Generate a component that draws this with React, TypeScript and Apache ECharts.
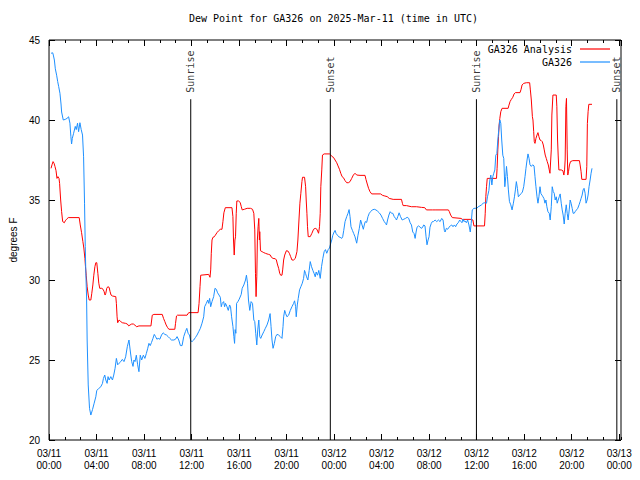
import React, { useEffect, useRef } from 'react';
import * as echarts from 'echarts';

const TITLE = 'Dew Point for GA326 on 2025-Mar-11 (time in UTC)';
const NAME_ANALYSIS = 'GA326 Analysis';
const NAME_OBS = 'GA326';
const Y_NAME = 'degrees F';
const Y_MIN = 20;
const Y_MAX = 45;
const Y_STEP = 5;
const X_MIN = 0; // hours since 03/11 00:00 UTC
const X_MAX = 48.15;
const X_STEP = 4;
const X_MINOR_STEP = 4 / 3;
const SUN_TIMES = [11.93, 23.68, 35.98, 47.8];
const SUN_LABELS = ['Sunrise', 'Sunset', 'Sunrise', 'Sunset'];
const SUN_LINE_TOP = 41.3;

// [hours since 2025-03-11 00:00 UTC, dew point F]
const analysis: [number, number][] = [
  [0.17,36.98],[0.25,37.2],[0.34,37.4],[0.42,37.3],[0.50,37.1],[0.59,36.83],[0.67,36.35],[0.75,36.46],[0.84,36.35],[0.89,36.04],[0.98,35.0],[1.06,34.27],[1.15,33.65],[1.29,33.58],[1.37,33.7],[1.48,33.8],[1.62,33.9],[2.54,33.9],[2.63,33.44],[2.74,32.96],[2.85,32.4],[2.93,32.0],[3.02,31.35],[3.07,30.83],[3.13,30.3],[3.21,29.58],[3.30,29.06],[3.38,28.75],[3.52,28.75],[3.60,29.17],[3.69,29.69],[3.77,30.3],[3.86,30.83],[3.94,31.08],[4.02,31.08],[4.11,30.42],[4.19,29.8],[4.27,29.48],[4.44,29.48],[4.55,29.42],[4.64,29.27],[4.72,29.06],[4.78,29.17],[4.86,29.48],[4.95,29.58],[5.06,29.54],[5.14,29.27],[5.22,29.06],[5.34,29.0],[5.62,28.96],[5.67,28.54],[5.73,27.7],[5.78,27.33],[5.90,27.5],[6.04,27.4],[6.17,27.33],[6.45,27.29],[6.59,27.25],[6.71,27.13],[6.82,27.19],[6.96,27.25],[7.10,27.25],[7.24,27.17],[7.38,27.08],[7.57,27.13],[8.58,27.13],[8.69,27.8],[8.83,27.85],[9.53,27.85],[9.64,27.6],[9.75,27.4],[9.86,27.19],[9.97,27.04],[10.09,26.92],[10.59,26.92],[10.65,27.29],[10.73,27.75],[10.81,27.8],[11.62,27.8],[11.76,27.96],[12.55,27.96],[12.63,28.54],[12.71,29.58],[12.77,30.3],[13.44,30.35],[13.55,30.17],[13.61,30.63],[13.66,31.67],[13.72,32.5],[13.80,32.67],[13.91,32.7],[14.00,32.8],[14.14,32.96],[14.28,33.08],[14.42,33.17],[14.56,33.17],[14.64,33.65],[14.72,34.2],[14.84,34.52],[15.40,34.52],[15.48,33.96],[15.53,32.5],[15.59,31.56],[15.65,32.5],[15.70,32.7],[15.76,34.17],[15.81,34.94],[15.95,34.94],[16.09,34.85],[16.18,34.6],
  [16.26,34.38],[16.45,34.42],[16.68,34.48],[16.96,34.48],[17.13,34.42],[17.24,34.17],[17.32,33.13],[17.38,30.42],[17.43,28.96],[17.49,30.2],[17.54,32.5],[17.60,33.33],[17.66,33.85],[17.71,32.5],[17.74,33.02],[17.80,31.83],[17.94,31.77],[18.08,31.71],[18.21,31.67],[18.35,31.63],[18.49,31.6],[18.63,31.56],[18.72,31.42],[18.86,31.35],[19.05,31.33],[19.14,31.25],[19.22,31.0],[19.33,30.73],[19.42,30.42],[19.50,30.3],[19.61,30.3],[19.67,30.63],[19.75,31.25],[19.84,31.56],[19.98,31.83],[20.11,31.81],[20.23,31.67],[20.34,31.46],[20.45,31.25],[20.59,31.25],[20.73,31.35],[20.87,31.77],[20.95,32.5],[21.04,33.75],[21.12,34.8],[21.20,35.42],[21.29,36.15],[21.34,36.42],[21.51,36.42],[21.60,35.83],[21.65,35.0],[21.71,34.17],[21.76,33.33],[21.82,32.71],[21.99,32.71],[22.13,32.92],[22.27,33.17],[22.41,33.23],[22.55,33.17],[22.69,32.92],[22.77,33.33],[22.83,34.17],[22.88,35.83],[22.96,36.88],[23.02,37.81],[23.16,37.88],[23.61,37.88],[23.72,37.81],[23.83,37.71],[23.94,37.67],[24.08,37.5],[24.22,37.33],[24.33,37.13],[24.45,36.92],[24.56,36.67],[24.67,36.46],[24.78,36.4],[24.92,36.21],[25.06,36.08],[25.20,36.08],[25.34,36.15],[25.48,36.35],[25.62,36.56],[25.76,36.67],[25.90,36.56],[26.18,36.54],[26.60,36.54],[26.68,36.29],[26.79,36.0],[26.90,35.73],[27.02,35.52],[27.16,35.38],[27.91,35.38],[28.08,35.29],[28.27,35.25],[28.47,35.21],[28.64,35.1],[28.97,35.04],[29.67,35.04],[29.75,34.79],[29.81,34.65],[30.09,34.65],[30.51,34.58],[30.93,34.58],[31.35,34.54],[31.63,34.52],[31.77,34.38],[32.27,34.38],
  [32.50,34.38],[33.62,34.38],[33.70,34.27],[33.81,34.06],[33.95,33.9],[34.68,33.85],[34.79,33.79],[35.57,33.79],[35.68,33.75],[35.77,33.38],[36.66,33.38],[36.72,34.17],[36.77,35.21],[36.83,35.83],[36.89,36.35],[37.67,36.35],[37.72,36.98],[37.78,38.13],[37.84,38.96],[37.89,39.69],[37.95,40.1],[38.03,40.52],[38.14,40.73],[38.65,40.73],[38.70,40.88],[38.81,41.15],[38.92,41.29],[39.04,41.42],[39.15,41.63],[39.26,41.71],[39.65,41.71],[39.74,41.92],[39.82,42.19],[39.96,42.29],[40.18,42.33],[40.46,42.33],[40.52,41.88],[40.60,41.25],[40.69,40.21],[40.74,40.0],[40.80,39.27],[40.85,38.65],[40.91,38.54],[40.99,38.85],[41.08,39.06],[41.16,39.21],[41.24,38.96],[41.33,38.75],[41.44,38.71],[41.52,38.65],[41.61,38.44],[41.69,38.13],[41.77,37.81],[41.86,37.6],[41.94,37.4],[42.03,37.19],[42.11,36.88],[42.17,36.67],[42.22,36.67],[42.28,38.13],[42.33,40.31],[42.42,41.56],[42.70,41.56],[42.75,40.83],[42.81,38.75],[42.86,37.81],[42.92,36.88],[43.12,36.88],[43.26,36.83],[43.34,36.56],[43.40,36.88],[43.45,37.5],[43.51,40.83],[43.56,41.35],[43.62,38.13],[43.67,36.56],[43.73,36.77],[43.81,37.19],[43.90,37.4],[44.09,37.46],[44.65,37.46],[44.71,37.19],[44.79,36.77],[44.85,36.29],[45.21,36.29],[45.27,37.08],[45.32,39.79],[45.38,40.52],[45.44,40.98],[45.71,40.98]
];

const observed: [number, number][] = [
  [0.17,44.17],[0.31,44.2],[0.36,44.06],[0.45,43.75],[0.53,43.2],[0.64,42.8],[0.73,42.4],[0.81,42.1],[0.92,41.67],[1.01,41.0],[1.06,40.5],[1.20,40.0],[1.37,40.04],[1.51,40.1],[1.65,40.2],[1.76,39.8],[1.84,38.96],[1.90,38.5],[1.96,38.85],[2.07,39.17],[2.21,39.6],[2.29,39.4],[2.40,39.8],[2.49,39.27],[2.60,39.83],[2.71,39.4],[2.82,39.06],[2.91,37.7],[2.99,34.8],[3.05,32.1],[3.10,30.4],[3.16,29.0],[3.21,26.25],[3.30,23.44],[3.41,21.98],[3.52,21.56],[3.66,21.9],[3.80,22.3],[3.94,22.7],[4.02,23.1],[4.16,23.2],[4.36,23.33],[4.50,23.54],[4.58,23.85],[4.69,24.06],[4.78,23.75],[4.89,23.54],[4.97,23.96],[5.06,23.75],[5.20,23.96],[5.34,23.75],[5.45,24.06],[5.56,24.48],[5.67,25.1],[5.78,24.7],[5.90,24.8],[6.04,24.9],[6.17,25.04],[6.31,24.9],[6.45,25.2],[6.59,25.83],[6.73,26.25],[6.85,25.5],[6.96,24.9],[7.07,24.6],[7.15,25.0],[7.24,24.9],[7.35,25.3],[7.46,24.7],[7.57,24.27],[7.68,25.3],[7.80,25.0],[7.94,25.3],[8.07,25.1],[8.19,25.4],[8.30,25.7],[8.41,26.04],[8.52,25.9],[8.63,26.1],[8.75,26.35],[8.86,26.6],[8.97,26.46],[9.08,26.3],[9.19,26.35],[9.33,26.3],[9.47,26.56],[9.61,26.7],[9.75,26.6],[9.89,26.56],[10.03,26.46],[10.17,26.35],[10.31,26.25],[10.51,26.25],[10.65,26.3],[10.78,26.46],[10.92,26.25],[11.06,25.9],[11.20,25.9],[11.34,26.46],[11.48,26.77],[11.60,26.98],[11.71,26.67],[11.82,26.56],[11.93,26.2],[12.04,26.15],[12.18,26.25],[12.32,26.4],[12.46,26.56],[12.60,26.77],[12.74,26.98],[12.88,27.3],[13.02,27.7],[13.10,28.33],[13.24,28.54],[13.36,28.75],[13.44,28.54],[13.52,28.85],[13.61,28.33],[13.72,28.65],[13.86,28.96],[13.97,29.48],[14.08,29.42],[14.19,29.2],[14.31,29.06],[14.42,28.92],[14.50,28.33],[14.58,28.54],[14.70,28.65],[14.78,28.33],[14.86,28.54],[14.98,28.33],[15.09,28.1],[15.20,28.44],[15.28,28.33],[15.37,27.7],[15.48,27.1],[15.56,26.46],[15.62,26.04],[15.67,26.9],[15.73,26.67],[15.79,28.54],[15.90,28.65],[16.01,28.8],[16.18,29.1],
  [16.26,29.48],[16.40,29.69],[16.54,30.0],[16.62,30.3],[16.71,29.8],[16.79,28.75],[16.90,28.1],[17.01,28.65],[17.13,28.54],[17.24,27.5],[17.32,27.4],[17.40,26.67],[17.49,25.94],[17.57,26.88],[17.66,27.5],[17.74,26.46],[17.82,26.35],[17.94,26.56],[18.08,26.77],[18.21,26.98],[18.35,27.19],[18.49,27.5],[18.61,27.9],[18.69,27.1],[18.77,26.25],[18.86,25.73],[18.97,26.04],[19.08,26.46],[19.19,26.6],[19.33,26.56],[19.47,26.46],[19.61,26.35],[19.70,27.1],[19.75,27.7],[19.84,28.1],[19.92,27.9],[20.03,27.7],[20.17,27.8],[20.31,28.1],[20.45,28.33],[20.59,28.54],[20.67,28.7],[20.76,28.33],[20.81,27.7],[20.90,28.44],[20.98,28.85],[21.09,29.38],[21.20,29.58],[21.32,29.8],[21.43,30.1],[21.51,30.6],[21.60,30.4],[21.68,30.2],[21.79,30.0],[21.90,30.6],[21.99,31.15],[22.10,30.83],[22.21,30.6],[22.32,30.4],[22.41,30.2],[22.49,30.5],[22.60,30.3],[22.71,30.6],[22.83,30.1],[22.94,30.83],[23.05,31.35],[23.16,31.77],[23.27,31.9],[23.38,31.67],[23.50,31.9],[23.61,32.0],[23.72,32.3],[23.80,32.5],[23.89,32.8],[24.00,33.0],[24.08,33.1],[24.17,32.9],[24.28,32.8],[24.39,32.7],[24.50,32.67],[24.64,32.6],[24.72,32.7],[24.81,33.1],[24.92,33.65],[25.06,33.96],[25.17,34.17],[25.26,34.4],[25.34,33.96],[25.42,33.33],[25.54,33.1],[25.65,32.9],[25.76,32.7],[25.90,32.3],[26.01,32.8],[26.12,33.23],[26.23,33.75],[26.35,33.44],[26.46,33.17],[26.54,33.44],[26.62,33.65],[26.74,33.6],[26.85,33.96],[26.96,34.17],[27.07,34.27],[27.21,34.38],[27.38,34.42],[27.52,34.38],[27.66,34.3],[27.80,34.2],[27.94,34.06],[28.08,33.85],[28.22,33.65],[28.33,33.54],[28.41,33.44],[28.50,33.75],[28.61,34.06],[28.72,34.27],[28.83,34.17],[28.94,34.17],[29.06,33.96],[29.17,33.85],[29.25,33.75],[29.36,33.96],[29.47,34.2],[29.59,33.96],[29.73,33.75],[29.87,33.8],[30.01,33.85],[30.15,33.92],[30.28,33.85],[30.40,33.58],[30.51,33.44],[30.62,33.0],[30.73,32.9],[30.82,32.6],[30.90,33.0],[30.98,33.3],[31.10,33.38],[31.21,33.33],[31.32,33.23],[31.43,33.27],[31.54,33.44],[31.65,33.38],[31.74,32.7],[31.82,32.2],[31.91,32.5],[31.99,32.7],[32.07,33.3],[32.18,33.54],[32.27,33.65],
  [32.36,33.65],[32.50,33.75],[32.64,33.65],[32.78,33.75],[32.92,33.65],[33.06,33.85],[33.17,33.75],[33.28,33.1],[33.34,33.0],[33.45,33.23],[33.56,33.17],[33.67,33.3],[33.78,33.38],[33.90,33.44],[34.01,33.33],[34.12,33.44],[34.23,33.33],[34.34,33.5],[34.45,33.58],[34.57,33.75],[34.68,33.65],[34.76,33.58],[34.85,33.8],[34.93,33.65],[35.01,33.7],[35.13,33.58],[35.24,33.75],[35.35,33.44],[35.46,33.0],[35.54,33.54],[35.63,34.38],[35.77,34.48],[35.91,34.48],[36.02,34.48],[36.13,34.58],[36.27,34.63],[36.41,34.7],[36.55,34.8],[36.69,34.83],[36.83,34.8],[36.91,35.2],[37.03,35.6],[37.11,36.25],[37.19,36.56],[37.28,35.94],[37.36,36.46],[37.44,36.67],[37.53,36.88],[37.61,37.8],[37.70,37.9],[37.78,38.75],[37.86,39.38],[37.95,40.0],[38.03,39.8],[38.11,38.75],[38.20,37.8],[38.28,37.6],[38.37,35.83],[38.45,36.46],[38.51,37.1],[38.59,36.46],[38.67,35.63],[38.76,34.9],[38.87,34.7],[38.98,34.38],[39.09,34.8],[39.18,35.2],[39.26,35.63],[39.34,36.15],[39.43,35.73],[39.51,35.2],[39.62,35.3],[39.74,35.4],[39.85,35.5],[39.96,35.83],[40.07,36.46],[40.15,36.98],[40.24,37.5],[40.32,37.88],[40.41,37.6],[40.49,37.2],[40.60,37.1],[40.71,37.2],[40.83,37.13],[40.91,36.46],[40.99,35.83],[41.08,35.2],[41.16,34.8],[41.24,35.2],[41.33,35.83],[41.41,35.4],[41.50,35.3],[41.58,35.2],[41.66,35.1],[41.75,34.8],[41.83,35.0],[41.91,34.58],[42.00,34.27],[42.11,34.17],[42.19,33.75],[42.28,34.58],[42.36,35.83],[42.45,35.52],[42.53,35.42],[42.61,35.0],[42.70,35.2],[42.78,34.8],[42.86,35.0],[42.95,35.2],[43.03,35.38],[43.12,34.8],[43.20,34.38],[43.28,34.06],[43.37,33.5],[43.45,34.17],[43.54,34.7],[43.62,34.17],[43.70,33.75],[43.79,34.38],[43.87,35.0],[43.95,34.8],[44.04,34.48],[44.12,34.17],[44.21,34.17],[44.29,34.27],[44.40,34.38],[44.51,34.48],[44.62,34.7],[44.71,34.9],[44.79,35.1],[44.88,35.31],[44.96,35.63],[45.04,35.73],[45.13,35.42],[45.21,34.8],[45.30,35.0],[45.38,35.31],[45.46,35.83],[45.55,36.25],[45.63,36.67],[45.71,36.98]
];

const MONO = 'DejaVu Sans Mono';
const SANS = 'Liberation Sans';

function hourLabel(v: number): string {
  const r = Math.round(v);
  if (Math.abs(v - r) > 1e-3 || r % X_STEP !== 0) return '';
  const day = 11 + Math.floor(r / 24);
  const hh = r % 24;
  return `03/${day}\n${String(hh).padStart(2, '0')}:00`;
}

function xAxisDef(position: 'top' | 'bottom', interval: number, len: number, labels: boolean) {
  return {
    type: 'value',
    position,
    min: X_MIN,
    max: X_MAX,
    interval,
    axisLine: { show: false, onZero: false },
    splitLine: { show: false },
    axisTick: { show: true, inside: true, length: len, lineStyle: { color: '#000', width: 1 } },
    axisLabel: labels
      ? { show: true, formatter: hourLabel, color: '#000', fontFamily: SANS, fontSize: 10, lineHeight: 12, margin: 7, showMaxLabel: false }
      : { show: false },
  };
}

function yAxisDef(position: 'left' | 'right', labels: boolean) {
  return {
    type: 'value',
    position,
    min: Y_MIN,
    max: Y_MAX,
    interval: Y_STEP,
    name: labels ? Y_NAME : '',
    nameLocation: 'middle',
    nameGap: 31,
    nameTextStyle: { color: '#000', fontFamily: SANS, fontSize: 10 },
    axisLine: { show: false, onZero: false },
    splitLine: { show: false },
    axisTick: { show: true, inside: true, length: 6, lineStyle: { color: '#000', width: 1 } },
    axisLabel: labels ? { show: true, color: '#000', fontFamily: SANS, fontSize: 10, margin: 9 } : { show: false },
  };
}

export default function App() {
  const ref = useRef<HTMLDivElement>(null);
  useEffect(() => {
    if (!ref.current) return;
    const chart = echarts.init(ref.current, undefined, { renderer: 'svg' });
    const legendText = { fontFamily: MONO, fontSize: 10, color: '#000', padding: [0, 3, 0, 0] };
    const legendBase = {
      right: 30, align: 'right', icon: 'rect', itemWidth: 30, itemHeight: 1.2,
      padding: 0, selectedMode: false, textStyle: legendText,
    };
    chart.setOption({
      animation: false,
      backgroundColor: '#fff',
      title: {
        text: TITLE,
        left: 189,
        top: 13,
        padding: 0,
        textStyle: { fontFamily: MONO, fontSize: 10, fontWeight: 'normal', color: '#000' },
      },
      legend: [
        { ...legendBase, data: [NAME_ANALYSIS], top: 44 },
        { ...legendBase, data: [NAME_OBS], top: 57 },
      ],
      grid: { left: 47, top: 40, width: 574, height: 400, show: true, borderColor: '#000', borderWidth: 1, backgroundColor: 'transparent' },
      xAxis: [
        xAxisDef('bottom', X_STEP, 6, true),
        xAxisDef('bottom', X_MINOR_STEP, 3, false),
        xAxisDef('top', X_STEP, 6, false),
        xAxisDef('top', X_MINOR_STEP, 3, false),
      ],
      yAxis: [yAxisDef('left', true), yAxisDef('right', false)],
      series: [
        {
          name: NAME_ANALYSIS, type: 'line', data: analysis, symbol: 'none', showSymbol: false,
          lineStyle: { color: '#ff0000', width: 1 }, itemStyle: { color: '#ff0000' }, silent: true,
        },
        {
          name: NAME_OBS, type: 'line', data: observed, symbol: 'none', showSymbol: false,
          lineStyle: { color: '#1e90ff', width: 1 }, itemStyle: { color: '#1e90ff' }, silent: true,
        },
        ...SUN_TIMES.map((t) => ({
          type: 'line', data: [[t, Y_MIN], [t, SUN_LINE_TOP]], symbol: 'none', showSymbol: false,
          lineStyle: { color: '#000', width: 1 }, silent: true, z: 4,
        })),
        {
          type: 'scatter',
          data: SUN_TIMES.map((t) => [t, SUN_LINE_TOP]),
          symbolSize: 1,
          itemStyle: { color: 'rgba(0,0,0,0)' },
          silent: true,
          label: {
            show: true,
            formatter: (p: any) => SUN_LABELS[p.dataIndex],
            position: 'top',
            distance: 6,
            rotate: 90,
            align: 'left',
            verticalAlign: 'middle',
            color: '#000',
            fontFamily: MONO,
            fontSize: 10,
          },
        },
      ],
    });
    return () => chart.dispose();
  }, []);
  return <div ref={ref} style={{ position: 'fixed', left: 0, top: 0, width: 640, height: 480 }} />;
}
